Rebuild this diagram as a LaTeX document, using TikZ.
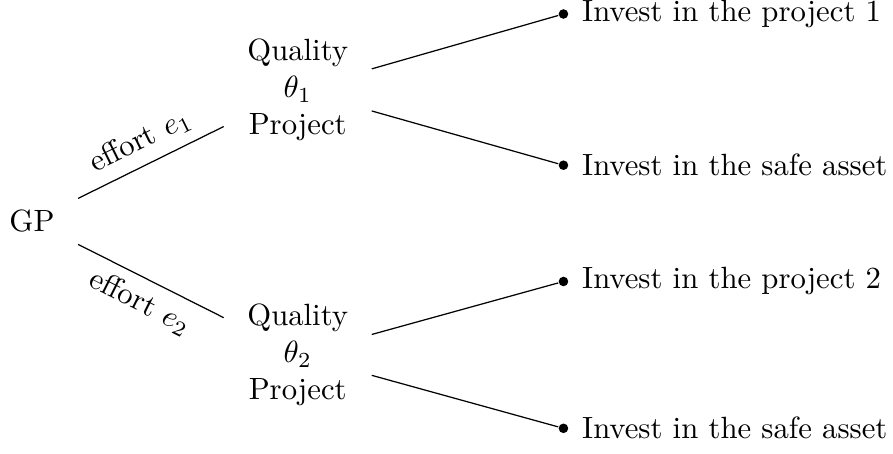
\documentclass[tikz,border=0pt]{standalone}
\usepackage{amsmath}
\usepackage{amssymb}
\usepackage{tikz}

\begin{document}
\begin{tikzpicture}
            [stage/.style={align=center,inner xsep=7.5pt,inner ysep=4pt},
             dot/.style={circle,fill,inner sep=1.1pt},
             choice/.style={label distance=0.8pt}]
            \useasboundingbox (-0.366,-2.655) rectangle (9.85,2.53);
            \node[stage] (gp) at (0,0) {GP};
            \node[stage] (q1) at (3.04,1.50) {Quality\\ $\theta_1$\\ Project};
            \node[stage] (q2) at (3.04,-1.53) {Quality\\ $\theta_2$\\ Project};
            \node[dot,label={[choice]right:Invest in the project 1}] (a1) at (6.08,2.37) {};
            \node[dot,label={[choice]right:Invest in the safe asset}] (a2) at (6.08,0.64) {};
            \node[dot,label={[choice]right:Invest in the project 2}] (a3) at (6.08,-0.69) {};
            \node[dot,label={[choice]right:Invest in the safe asset}] (a4) at (6.08,-2.37) {};
            % efforts
            \draw (gp) -- node[sloped,above] {effort $e_1$} (q1);
            \draw (gp) -- node[sloped,below] {effort $e_2$} (q2);
            % investment choices
            \draw (q1) -- (a1);
            \draw (q1) -- (a2);
            \draw (q2) -- (a3);
            \draw (q2) -- (a4);
        \end{tikzpicture}
\end{document}
